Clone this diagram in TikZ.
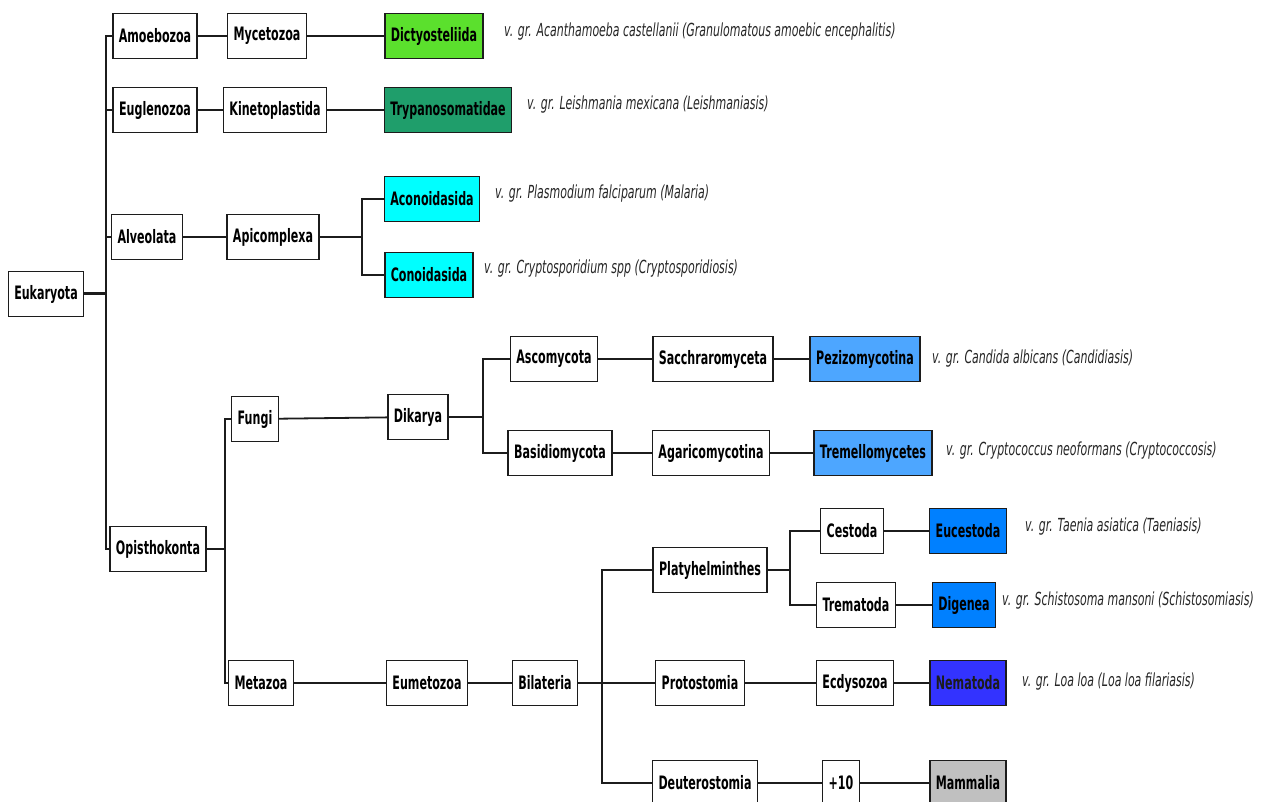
\documentclass[tikz,border=0pt]{standalone}
\usepackage{fontspec}
\newfontfamily\taxfont[FakeStretch=0.6]{DejaVu Sans}
\newfontfamily\notefont[FakeStretch=0.61]{DejaVu Sans}
\usetikzlibrary{positioning}
\definecolor{Ink}{HTML}{1C1C1C}
\definecolor{Note}{HTML}{262626}
\definecolor{Lime}{HTML}{5BE02D}
\definecolor{Jade}{HTML}{1F9E6B}
\definecolor{Aqua}{HTML}{00FFFF}
\definecolor{Sky}{HTML}{4DA6FF}
\definecolor{Azure}{HTML}{0080FF}
\definecolor{Royal}{HTML}{3333FF}
\definecolor{Ash}{HTML}{C0C0C0}
\tikzset{
  taxon/.style={draw=Ink,line width=1.5pt,fill=white,minimum height=45pt,inner xsep=6pt,
    font=\taxfont\bfseries\fontsize{18.5pt}{18.5pt}\selectfont},
  target/.style={taxon,fill=#1},
  link/.style={draw=Ink,line width=1.8pt},
  root/.style={link,line width=3pt},
  note/.style={anchor=west,inner sep=0pt,text=Note,font=\notefont\itshape\fontsize{18pt}{18pt}\selectfont}
}
\begin{document}
\begin{tikzpicture}[x=1pt,y=-1pt]
  \useasboundingbox (0,0) rectangle (1261,802);
  % branch points
  \coordinate (trunk) at (106,294);
  \coordinate (apicFork) at (362,237);
  \coordinate (opisFork) at (225,549);
  \coordinate (dikaFork) at (483,417);
  \coordinate (bilaFork) at (602,683);
  \coordinate (platyFork) at (790,570);

  \node[taxon] (euk) at (46,294) {Eukaryota};
  % protists
  \node[taxon] (amoe) at (155,36) {Amoebozoa};
  \node[taxon] (myce) at (267,36) {Mycetozoa};
  \node[target=Lime] (dicty) at (434,36) {Dictyosteliida};
  \node[taxon] (eugl) at (155,110) {Euglenozoa};
  \node[taxon] (kine) at (275,110) {Kinetoplastida};
  \node[target=Jade] (tryp) at (448,110) {Trypanosomatidae};
  \node[taxon] (alve) at (147,237) {Alveolata};
  \node[taxon] (apic) at (273,237) {Apicomplexa};
  \node[target=Aqua] (acon) at (432,199) {Aconoidasida};
  \node[target=Aqua] (cono) at (429,275) {Conoidasida};
  % fungi
  \node[taxon] (opis) at (158,549) {Opisthokonta};
  \node[taxon] (fungi) at (255,419) {Fungi};
  \node[taxon] (dika) at (418,417) {Dikarya};
  \node[taxon] (asco) at (554,359) {Ascomycota};
  \node[taxon] (basi) at (560,453) {Basidiomycota};
  \node[taxon] (sacc) at (713,359) {Sacchraromyceta};
  \node[taxon] (agar) at (711,453) {Agaricomycotina};
  \node[target=Sky] (pezi) at (865,359) {Pezizomycotina};
  \node[target=Sky] (trem) at (873,453) {Tremellomycetes};
  % animals
  \node[taxon] (meta) at (261,683) {Metazoa};
  \node[taxon] (eume) at (427,683) {Eumetozoa};
  \node[taxon] (bila) at (545,683) {Bilateria};
  \node[taxon] (platy) at (710,570) {Platyhelminthes};
  \node[taxon] (proto) at (700,683) {Protostomia};
  \node[taxon] (deut) at (705,783) {Deuterostomia};
  \node[taxon] (cest) at (852,531) {Cestoda};
  \node[taxon] (trema) at (856,605) {Trematoda};
  \node[target=Azure] (eucest) at (968,531) {Eucestoda};
  \node[target=Azure] (dige) at (964,605) {Digenea};
  \node[taxon] (ecdy) at (855,683) {Ecdysozoa};
  \node[target=Royal,text=Ink] (nema) at (968,683) {Nematoda};
  \node[taxon] (plus) at (841,783) {+10};
  \node[target=Ash] (mamm) at (968,783) {Mammalia};

  % connectors
  \draw[root] (euk) -- (trunk);
  \draw[link] (trunk) |- (amoe); \draw[link] (trunk) |- (eugl);
  \draw[link] (trunk) |- (alve); \draw[link] (trunk) |- (opis);
  \draw[link] (amoe) -- (myce) -- (dicty);
  \draw[link] (eugl) -- (kine) -- (tryp);
  \draw[link] (alve) -- (apic) -- (apicFork);
  \draw[link] (apicFork) |- (acon); \draw[link] (apicFork) |- (cono);
  \draw[link] (opis) -- (opisFork);
  \draw[link] (opisFork) |- (fungi); \draw[link] (opisFork) |- (meta);
  \draw[link] (fungi) -- (dika) -- (dikaFork);
  \draw[link] (dikaFork) |- (asco); \draw[link] (dikaFork) |- (basi);
  \draw[link] (asco) -- (sacc) -- (pezi);
  \draw[link] (basi) -- (agar) -- (trem);
  \draw[link] (meta) -- (eume) -- (bila) -- (bilaFork);
  \draw[link] (bilaFork) |- (platy); \draw[link] (bilaFork) -- (proto);
  \draw[link] (bilaFork) |- (deut);
  \draw[link] (platy) -- (platyFork);
  \draw[link] (platyFork) |- (cest); \draw[link] (platyFork) |- (trema);
  \draw[link] (cest) -- (eucest);
  \draw[link] (trema) -- (dige);
  \draw[link] (proto) -- (ecdy) -- (nema);
  \draw[link] (deut) -- (plus) -- (mamm);

  % pathogens
  \node[note] (dictyNote) at (504,32) {v. gr. Acanthamoeba castellanii (Granulomatous amoebic encephalitis)};
  \node[note] (trypNote) at (527,105) {v. gr. Leishmania mexicana (Leishmaniasis)};
  \node[note] (aconNote) at (495,194) {v. gr. Plasmodium falciparum (Malaria)};
  \node[note] (conoNote) at (484,269) {v. gr. Cryptosporidium spp (Cryptosporidiosis)};
  \node[note] (peziNote) at (932,359) {v. gr. Candida albicans (Candidiasis)};
  \node[note] (tremNote) at (946,451) {v. gr. Cryptococcus neoformans (Cryptococcosis)};
  \node[note] (eucestNote) at (1025,527) {v. gr. Taenia asiatica (Taeniasis)};
  \node[note] (digeNote) at (1002,601) {v. gr. Schistosoma mansoni (Schistosomiasis)};
  \node[note] (nemaNote) at (1022,682) {v. gr. Loa loa (Loa loa filariasis)};
\end{tikzpicture}
\end{document}
